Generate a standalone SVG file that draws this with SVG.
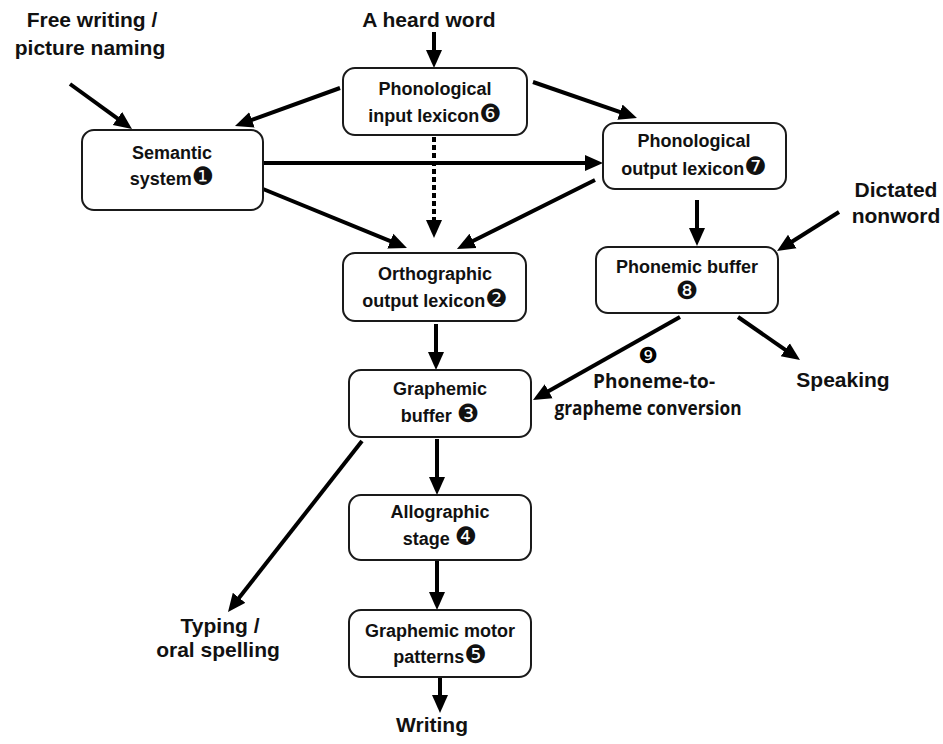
<svg xmlns="http://www.w3.org/2000/svg" width="943" height="744" viewBox="0 0 943 744">
<style>
.box{fill:#fff;stroke:#1a1a1a;stroke-width:2}
.lbl{font-family:"Liberation Sans",Arial,sans-serif;font-weight:bold;font-size:18px;fill:#111;text-anchor:middle}
.out{font-family:"Liberation Sans",Arial,sans-serif;font-weight:bold;font-size:21px;fill:#111;text-anchor:middle}
.num{font-family:"DejaVu Sans",sans-serif;font-weight:normal;font-size:25px}
.conv{font-family:"Open Sans","Liberation Sans",sans-serif;font-weight:bold;font-size:19px;fill:#111;text-anchor:middle}
.ar{stroke:#000;stroke-width:4;fill:none;marker-end:url(#ah)}
.dash{stroke-dasharray:5 3}
</style>
<defs>
<marker id="ah" markerUnits="userSpaceOnUse" markerWidth="20" markerHeight="18" refX="8" refY="8.5" orient="auto">
<path d="M0,0.5 L18,8.5 L0,16.5 z" fill="#000"/>
</marker>
</defs>
<rect width="943" height="744" fill="#fff"/>

<g id="connectors">
<line class="ar" x1="434" y1="32" x2="434" y2="58"/>
<line class="ar" x1="70" y1="84" x2="123.9" y2="123.1"/>
<line class="ar" x1="340" y1="88" x2="244.4" y2="122.6"/>
<line class="ar" x1="533" y1="82" x2="627.5" y2="114.7"/>
<line class="ar" x1="263" y1="163" x2="593" y2="163"/>
<line class="ar dash" x1="434" y1="137" x2="434" y2="228"/>
<line class="ar" x1="263" y1="189" x2="397.7" y2="244.2"/>
<line class="ar" x1="595" y1="180" x2="465.9" y2="244.5"/>
<line class="ar" x1="697" y1="200" x2="697" y2="236"/>
<line class="ar" x1="839" y1="212" x2="785.5" y2="245.7"/>
<line class="ar" x1="436" y1="324" x2="436" y2="360"/>
<line class="ar" x1="680" y1="317" x2="541.7" y2="395.1"/>
<line class="ar" x1="738" y1="317" x2="791.8" y2="354.3"/>
<line class="ar" x1="437" y1="439" x2="437" y2="485"/>
<line class="ar" x1="362" y1="441" x2="234.2" y2="604.1"/>
<line class="ar" x1="437" y1="561" x2="437" y2="600"/>
<line class="ar" x1="440" y1="678" x2="440" y2="703"/>
</g>

<g id="phon-input">
<rect class="box" x="343" y="68" width="184" height="67" rx="12"/>
<text class="lbl" x="435" y="95">Phonological</text>
<text class="lbl" x="435" y="122">input lexicon<tspan class="num">❻</tspan></text>
</g>
<g id="semantic">
<rect class="box" x="82" y="130" width="181" height="80" rx="12"/>
<text class="lbl" x="172" y="159">Semantic</text>
<text class="lbl" x="172" y="185">system<tspan class="num">❶</tspan></text>
</g>
<g id="phon-output">
<rect class="box" x="603" y="123" width="183" height="66" rx="12"/>
<text class="lbl" x="694" y="147">Phonological</text>
<text class="lbl" x="694" y="175">output lexicon<tspan class="num">❼</tspan></text>
</g>
<g id="ortho-output">
<rect class="box" x="343" y="253" width="183" height="68" rx="12"/>
<text class="lbl" x="435" y="280">Orthographic</text>
<text class="lbl" x="435" y="307">output lexicon<tspan class="num">❷</tspan></text>
</g>
<g id="phonemic-buffer">
<rect class="box" x="596" y="247" width="182" height="66" rx="12"/>
<text class="lbl" x="687" y="273">Phonemic buffer</text>
<text class="lbl num" x="687" y="299">❽</text>
</g>
<g id="graphemic-buffer">
<rect class="box" x="349" y="370" width="182" height="67" rx="12"/>
<text class="lbl" x="440" y="395">Graphemic</text>
<text class="lbl" x="440" y="422">buffer <tspan class="num">❸</tspan></text>
</g>
<g id="allographic">
<rect class="box" x="349" y="495" width="182" height="65" rx="12"/>
<text class="lbl" x="440" y="518">Allographic</text>
<text class="lbl" x="440" y="545">stage <tspan class="num">❹</tspan></text>
</g>
<g id="motor">
<rect class="box" x="349" y="610" width="182" height="67" rx="12"/>
<text class="lbl" x="440" y="637">Graphemic motor</text>
<text class="lbl" x="440" y="663">patterns<tspan class="num">❺</tspan></text>
</g>

<g id="free-writing">
<text class="out" x="92" y="27">Free writing /</text>
<text class="out" x="90" y="55">picture naming</text>
</g>
<g id="heard-word"><text class="out" x="429" y="27">A heard word</text></g>
<g id="dictated">
<text class="out" x="896" y="197">Dictated</text>
<text class="out" x="896" y="223">nonword</text>
</g>
<g id="speaking"><text class="out" x="843" y="387">Speaking</text></g>
<g id="typing">
<text class="out" x="220" y="633">Typing /</text>
<text class="out" x="218" y="657">oral spelling</text>
</g>
<g id="writing"><text class="out" x="432" y="732">Writing</text></g>
<g id="pg-conversion">
<text class="num" x="648" y="363" text-anchor="middle" style="font-size:22px">❾</text>
<text class="conv" x="654" y="388" textLength="122" lengthAdjust="spacingAndGlyphs">Phoneme-to-</text>
<text class="conv" x="648" y="415" textLength="187" lengthAdjust="spacingAndGlyphs">grapheme conversion</text>
</g>
</svg>
